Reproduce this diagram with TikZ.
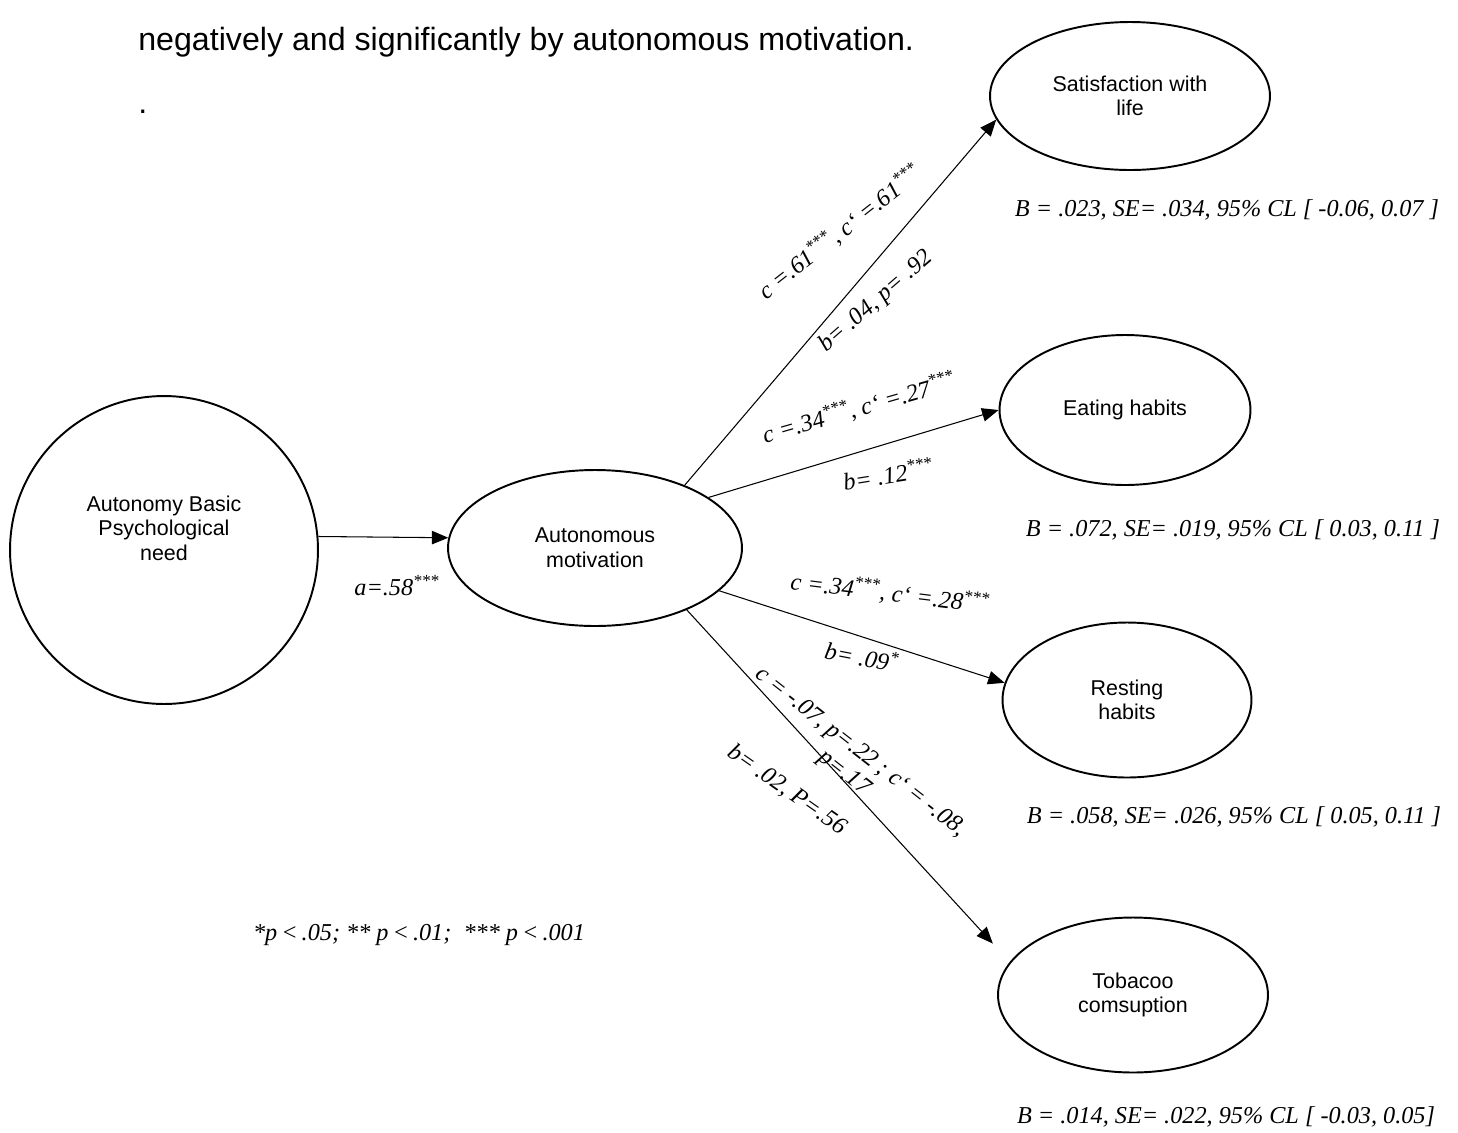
\documentclass[tikz,border=0pt]{standalone}
\usepackage{fontspec}
\setmainfont{Liberation Serif}
\setsansfont{Liberation Sans}
\usetikzlibrary{arrows.meta,shapes.geometric}

\begin{document}
\begin{tikzpicture}[
  x=0.02cm, y=-0.02cm,
  >={Triangle[length=3.3mm,width=2.7mm]},
  every node/.append style={text=black},
  nfont/.style={font=\sffamily\fontsize{12.2}{14}\selectfont},
  outc/.style={nfont, draw, ellipse, line width=1.1pt, inner sep=0pt, align=center,
    minimum width=5.4cm, minimum height=3.05cm},
  cause/.style={draw, circle, line width=1.1pt, inner sep=0pt, minimum size=6.16cm},
  med/.style={nfont, draw, ellipse, line width=1.1pt, inner sep=0pt, align=center,
    minimum width=5.88cm, minimum height=3.12cm},
  lbl/.style={font=\itshape\fontsize{13.8}{15}\selectfont, inner sep=1pt, align=center},
  path/.style={->, line width=0.6pt},
  head/.style={font=\sffamily\fontsize{18.3}{21}\selectfont, anchor=west, inner sep=0pt},
]
\useasboundingbox (0,0) rectangle (1458,1133);
% text above the figure
\node[head] (cap) at (138,42) {negatively and significantly by autonomous motivation.};
\node[head] (dot) at (138,112) {.};
% predictor and mediator
\node[cause] (abpn) at (164,550) {};
\node[nfont, align=center] (abpntxt) at (164,528) {Autonomy Basic\\Psychological\\need};
\node[med] (am) at (595,548) {Autonomous\\motivation};
% outcomes
\node[outc, minimum width=5.6cm, minimum height=2.96cm] (swl) at (1130,96) {Satisfaction with\\life};
\node[outc, minimum width=5.02cm, minimum height=3.0cm] (eat) at (1125,410) {Eating habits};
\node[outc, minimum width=4.98cm, minimum height=3.1cm] (rest) at (1127,700) {Resting\\habits};
\node[outc, minimum width=5.4cm, minimum height=3.1cm] (tob) at (1133,995) {Tobacoo\\comsuption};
% indirect effects
\node[lbl] (swlB) at (1227,210) {B = .023, SE= .034, 95\% CL [ -0.06, 0.07 ]};
\node[lbl] (eatB) at (1233,530) {B = .072, SE= .019, 95\% CL [ 0.03, 0.11 ]};
\node[lbl] (restB) at (1234,817) {B = .058, SE= .026, 95\% CL [ 0.05, 0.11 ]};
\node[lbl] (tobB) at (1226,1117) {B = .014, SE= .022, 95\% CL [ -0.03, 0.05]};
% a path
\draw[path] (abpn.5) -- (am.176);
\node[lbl] (alab) at (397,586) {a=.58\textsuperscript{***}};
% b and c paths
\draw[path] (am.35) -- (swl.190);
\draw[path] (am.24) -- (eat.180);
\draw[path] (am.-19) -- (rest.172);
\draw[path, shorten >=0.5cm] (am.-34) -- (tob.165);
\node[lbl, rotate=38] (cswl) at (840,232) {c =.61\textsuperscript{***}, c‘ =.61\textsuperscript{***}};
\node[lbl, rotate=41] (bswl) at (876,302) {b= .04, p= .92};
\node[lbl, rotate=16] (ceat) at (859,408) {c =.34\textsuperscript{***}, c‘ =.27\textsuperscript{***}};
\node[lbl, rotate=9] (beat) at (888,474) {b= .12\textsuperscript{***}};
\node[lbl, rotate=-7] (crest) at (890,593) {c =.34\textsuperscript{***}, c‘ =.28\textsuperscript{***}};
\node[lbl, rotate=-11] (brest) at (862,656) {b= .09\textsuperscript{*}};
\node[lbl, rotate=-38] (ctob) at (852,763) {c = -.07, p=.22 ; c‘ = -.08,\\p=.17};
\node[lbl, rotate=-35] (btob) at (787,790) {b= .02, P=.56};
% significance note
\node[lbl] (note) at (419,935) {*p\,<\,.05; ** p\,<\,.01;\ \ *** p\,<\,.001};
\end{tikzpicture}
\end{document}
